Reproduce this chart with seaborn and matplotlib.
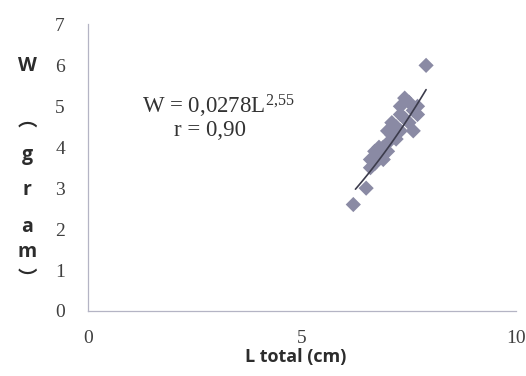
import matplotlib
matplotlib.use('Agg')

import numpy as np
import pandas as pd
import seaborn as sns
import matplotlib.pyplot as plt

# total length (cm) and weight (gram)
length_cm = [6.2, 6.5, 6.6, 6.6, 6.7, 6.7, 6.8, 6.8, 6.9, 6.9, 7.0, 7.0, 7.0, 7.1, 7.1,
             7.2, 7.2, 7.3, 7.3, 7.3, 7.4, 7.4, 7.5, 7.5, 7.6, 7.6, 7.7, 7.7, 7.9]
weight_g = [2.6, 3.0, 3.5, 3.7, 3.6, 3.9, 3.8, 4.0, 3.7, 4.0, 4.1, 4.4, 3.9, 4.3, 4.6,
            4.2, 4.5, 4.4, 4.8, 5.0, 4.7, 5.2, 4.6, 5.1, 4.9, 4.4, 5.0, 4.8, 6.0]

# power fit shown on the chart: W = a * L^b
fit_a = 0.0278
fit_b = 2.55
fit_range = [6.25, 7.9]
r_value = "0,90"

x_ticks = [0, 5, 10]
y_ticks = [0, 1, 2, 3, 4, 5, 6, 7]
# y label written top to bottom, brackets as vertical forms
ylabel_chars = ["W", "\ufe35", "g", "r", "a", "m", "\ufe36"]
ylabel_ypix = [66, 120, 155, 190, 227, 252, 279]

df = pd.DataFrame({"L": length_cm, "W": weight_g})
fit_L = np.linspace(fit_range[0], fit_range[1], 40)
fit_df = pd.DataFrame({"L": fit_L, "W": fit_a * fit_L ** fit_b})

sns.set_style("white")
plt.rcParams['font.family'] = ['Liberation Serif', 'DejaVu Sans']
plt.rcParams['mathtext.fontset'] = 'custom'
plt.rcParams['mathtext.rm'] = 'Liberation Serif'
plt.rcParams['mathtext.it'] = 'Liberation Serif'

fig = plt.figure(figsize=(5.26, 3.76), dpi=100)
ax = fig.add_axes([0.167, 0.173, 0.814, 0.762])

sns.scatterplot(data=df, x="L", y="W", marker="D", s=60, color="#8a8aa4",
                edgecolor="none", ax=ax, zorder=2)
sns.lineplot(data=fit_df, x="L", y="W", color="#3c3c4c", linewidth=1.2, ax=ax, zorder=3)

ax.set_xlim(0, 10)
ax.set_ylim(0, 7)
ax.set_xticks(x_ticks)
ax.set_yticks(y_ticks)
ax.tick_params(axis="both", labelsize=14, labelcolor="#404040", colors="#a8a8b8",
               length=3.5, width=0.8, direction="out")
ax.tick_params(axis="y", pad=13)
ax.tick_params(axis="x", pad=10)
for lab in ax.get_xticklabels() + ax.get_yticklabels():
    lab.set_color("#404040")

sns.despine(ax=ax)
for side in ["left", "bottom"]:
    ax.spines[side].set_color("#b4b4c4")
    ax.spines[side].set_linewidth(0.9)

ax.set_xlabel("L total (cm)", family="Open Sans", fontweight="bold", fontsize=13,
              color="#2c2c2c")
ax.xaxis.set_label_coords(0.486, -0.13)
ax.set_ylabel("")

for ch, yp in zip(ylabel_chars, ylabel_ypix):
    if ch in "\ufe35\ufe36":
        fig.text(27 / 526, 1 - yp / 376, ch, family=["Noto Sans CJK SC", "DejaVu Sans"],
                 fontweight="bold", fontsize=14, color="#2c2c2c", ha="center", va="center")
    else:
        fig.text(27 / 526, 1 - yp / 376, ch, family="Open Sans", fontweight="bold",
                 fontsize=14, color="#2c2c2c", ha="center", va="center")

ax.text(0.305, 0.715, r"W = 0,0278L$^{2{,}55}$", transform=ax.transAxes, fontsize=16.5,
        color="#333333", ha="center", va="center")
ax.text(0.285, 0.63, "r = " + r_value, transform=ax.transAxes, fontsize=16.5,
        color="#333333", ha="center", va="center")

fig.savefig("out.png", dpi=100)
